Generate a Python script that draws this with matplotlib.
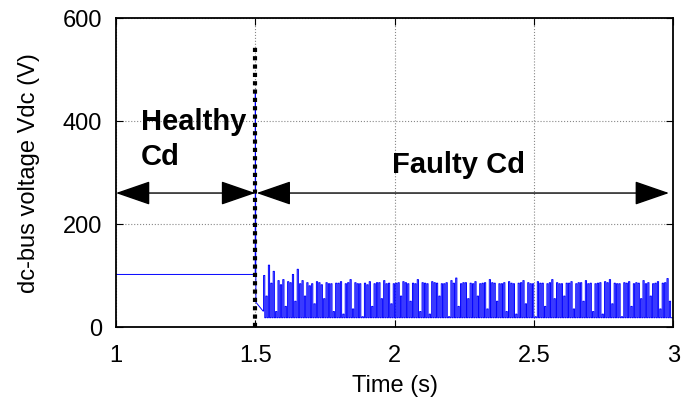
import numpy as np
import matplotlib
matplotlib.use("Agg")
import matplotlib.pyplot as plt

plt.rcParams['font.family'] = ['Liberation Sans', 'DejaVu Sans']

# healthy part + transient at the fault instant (t = 1.5 s)
pre_t = [1.0, 1.5, 1.5004, 1.5025, 1.528]
pre_v = [102, 102, 460, 48, 31]

# faulty part: per entry two pulses (peak, then intermediate step) back to the trough
peaks = [100, 120, 108, 90, 92, 88, 102, 112, 90, 86, 84, 88, 82, 86, 84, 85, 88, 84, 92, 86,
         84, 85, 88, 84, 86, 90, 85, 84, 86, 88, 84, 85, 92, 86, 84, 88, 85, 84, 86, 90,
         95, 84, 86, 85, 88, 84, 86, 92, 85, 84, 86, 88, 84, 85, 90, 86, 84, 88, 85, 84,
         92, 86, 84, 85, 88, 84, 86, 90, 85, 84, 86, 88, 92, 85, 84, 86, 88, 84, 85, 90,
         86, 84, 88, 85, 94]
mids = [60, 85, 30, 82, 40, 86, 50, 84, 60, 80, 45, 86, 55, 84, 30, 85, 25, 86, 35, 84,
        20, 82, 40, 86, 55, 84, 45, 85, 60, 86, 50, 84, 30, 85, 25, 86, 60, 84, 20, 85,
        40, 86, 55, 84, 60, 85, 35, 86, 50, 84, 30, 85, 25, 86, 45, 84, 20, 85, 40, 86,
        55, 84, 60, 85, 35, 86, 50, 84, 30, 85, 25, 86, 45, 84, 20, 85, 40, 86, 55, 84,
        60, 85, 35, 86, 50]
trough = 18

xticks = [1, 1.5, 2, 2.5, 3]
xticklabels = ['1', '1.5', '2', '2.5', '3']
yticks = [0, 200, 400, 600]

fig = plt.figure(figsize=(6.94, 4.10), dpi=100)
ax = fig.add_axes([0.167, 0.2, 0.803, 0.754])

# build the step waveform for the faulty period
n = len(peaks)
tp = np.linspace(1.53, 2.995, n + 1)
t = list(pre_t)
v = list(pre_v)
for i in range(n):
    dt = (tp[i + 1] - tp[i]) / 4
    t += [tp[i], tp[i], tp[i] + dt, tp[i] + dt,
          tp[i] + 2 * dt, tp[i] + 2 * dt, tp[i] + 3 * dt, tp[i] + 3 * dt]
    v += [v[-1], peaks[i], peaks[i], trough, trough, mids[i], mids[i], trough]
t.append(3.0)
v.append(trough)

ax.plot(t, v, color='blue', lw=0.7)
ax.plot([1.5, 1.5], [0, 550], color='black', lw=3, linestyle=(0, (1, 1)))

ax.set_xlim(1, 3)
ax.set_ylim(0, 600)
ax.set_xticks(xticks)
ax.set_xticklabels(xticklabels)
ax.set_yticks(yticks)
ax.tick_params(direction='in', top=True, right=True, labelsize=17, length=5)
ax.tick_params(axis='x', pad=12)
ax.tick_params(axis='y', pad=10)
ax.grid(True, linestyle=':', color='#888888', lw=0.8)
for s in ax.spines.values():
    s.set_linewidth(1.3)

ax.set_xlabel('Time (s)', fontsize=17, labelpad=6)
ax.set_ylabel('dc-bus voltage Vdc (V)', fontsize=17, labelpad=16)

arrow_style = '<|-|>,head_length=1.1,head_width=0.38'
ax.annotate('', xy=(1.0, 260), xytext=(1.5, 260),
            arrowprops=dict(arrowstyle=arrow_style, color='black', lw=1.0,
                            mutation_scale=20, shrinkA=0, shrinkB=0))
ax.annotate('', xy=(1.505, 260), xytext=(2.985, 260),
            arrowprops=dict(arrowstyle=arrow_style, color='black', lw=1.0,
                            mutation_scale=20, shrinkA=0, shrinkB=0))

ax.text(1.09, 400, 'Healthy', fontsize=21, fontweight='bold', va='center', ha='left')
ax.text(1.09, 332, 'Cd', fontsize=21, fontweight='bold', va='center', ha='left')
ax.text(2.23, 317, 'Faulty Cd', fontsize=21, fontweight='bold', va='center', ha='center')

fig.savefig('out.png', dpi=100)
